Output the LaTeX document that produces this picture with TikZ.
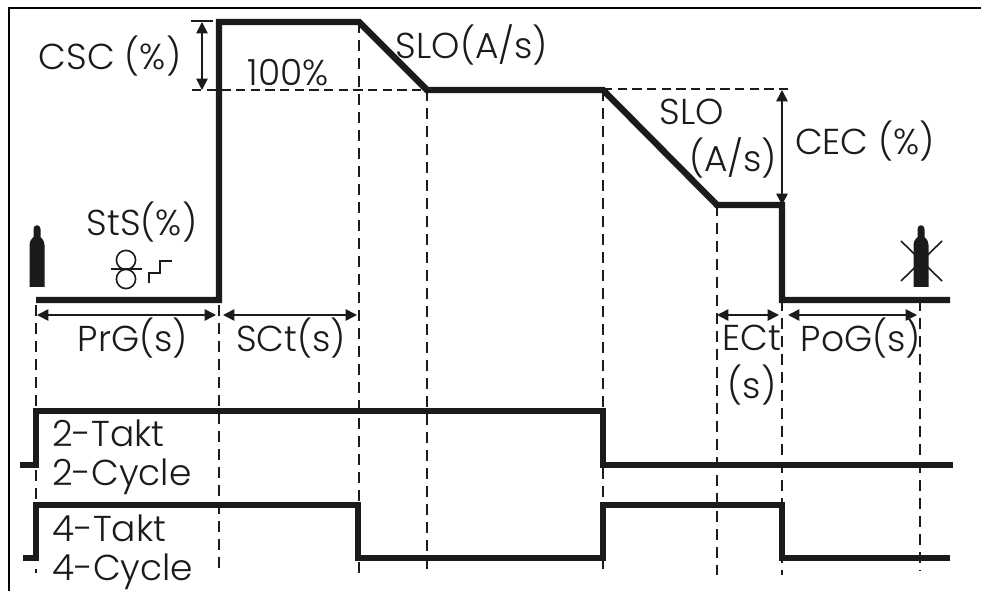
\documentclass[tikz,border=0pt]{standalone}
\usepackage{fontspec}
\setmainfont{Poppins Light}
\usepackage{xcolor}
\usetikzlibrary{arrows.meta}
\definecolor{inkc}{HTML}{1A1C1B}
\tikzset{
  ar/.style={{Stealth[length=8.5pt,width=8.5pt,inset=0pt]}-{Stealth[length=8.5pt,width=8.5pt,inset=0pt]},line width=1.2pt,inkc},
  heavy/.style={line width=4.8pt,inkc,line join=miter},
  trace/.style={line width=4.4pt,inkc,line join=miter},
  guide/.style={line width=1.2pt,inkc,dash pattern=on 8.5pt off 5pt},
  hguide/.style={line width=1.1pt,inkc,dash pattern=on 7pt off 4pt},
  thin/.style={line width=1.2pt,inkc},
  lbl/.style={font=\fontsize{27}{29}\selectfont,inkc,inner sep=0pt}
}
\begin{document}
\begin{tikzpicture}[x=0.75pt,y=-0.75pt]
\useasboundingbox (0,0) rectangle (981,591);
\fill[white] (0,0) rectangle (981,591);
% frame
\draw[line width=2pt,black] (9,591)--(9,8)--(981,8);
% dashed guides
\draw[guide] (36,305)--(36,408) (36,470)--(36,502) (36,569)--(36,573);
\draw[guide] (219,305)--(219,571);
\draw[guide] (359,22)--(359,574);
\draw[guide] (427,90)--(427,575);
\draw[guide] (603,90)--(603,575);
\draw[guide] (717,205)--(717,575);
\draw[guide] (782,300)--(782,575);
\draw[guide] (920,300)--(920,571);
\draw[hguide] (192,90)--(427,90);
\draw[hguide] (603,89)--(790,89);
\draw[thin] (191,21)--(213,21);
% welding current
\draw[heavy] (36,300)--(219,300)--(219,22)--(359,22)--(427,90)--(603,90)--(717,205)--(782,205)--(782,300)--(950,300);
% torch signal
\draw[trace] (20,465)--(36,465)--(36,411)--(603,411)--(603,465)--(953,465);
\draw[trace] (23,558)--(36,558)--(36,505)--(358,505)--(358,558)--(603,558)--(603,505)--(782,505)--(782,558)--(950,558);
% dimension arrows
\draw[ar] (202,22)--(202,90);
\draw[ar] (782,90)--(782,205);
\draw[ar] (37,315)--(216,315);
\draw[ar] (223,315)--(357,315);
\draw[ar] (717,315)--(779,315);
\draw[ar] (788,315)--(917,315);
% gas bottles
\foreach \gx in {37,921}{
  \fill[inkc] (\gx-7.5,287)--(\gx-7.5,245) .. controls (\gx-7.5,240) and (\gx-4,238) .. (\gx-3.5,237)--(\gx-3.5,229) .. controls (\gx-3.5,224) and (\gx+3.5,224) .. (\gx+3.5,229)--(\gx+3.5,237) .. controls (\gx+4,238) and (\gx+7.5,240) .. (\gx+7.5,245)--(\gx+7.5,287)--cycle;
}
\draw[thin] (901,241)--(942,281) (942,241)--(901,281);
% wire feed
\draw[thin] (126,260) circle (7.2pt) (126,279) circle (7.2pt);
\draw[thin] (111,269)--(142,269);
\draw[thin] (149,283)--(149,273)--(160,273)--(160,261)--(172,261);
% labels
\node[lbl] (csc) at (110,56) {CSC (\%)};
\node[lbl] (full) at (288,73) {100\%};
\node[lbl] (sloa) at (472,45) {SLO(A/s)};
\node[lbl] (slob) at (692,112) {SLO};
\node[lbl] (sloc) at (733,158) {(A/s)};
\node[lbl] (cec) at (865,141) {CEC (\%)};
\node[lbl] (sts) at (142,222) {StS(\%)};
\node[lbl] (prg) at (133,338) {PrG(s)};
\node[lbl] (sct) at (291,338) {SCt(s)};
\node[lbl] (ect) at (752,338) {ECt};
\node[lbl] (ecs) at (752,385) {(s)};
\node[lbl] (pog) at (861,338) {PoG(s)};
\node[lbl,anchor=west] (ztakt) at (52,433) {2-Takt};
\node[lbl,anchor=west] (zcyc) at (52,477) {2-Cycle};
\node[lbl,anchor=west] (vtakt) at (52,528) {4-Takt};
\node[lbl,anchor=west] (vcyc) at (52,572) {4-Cycle};
\end{tikzpicture}
\end{document}
